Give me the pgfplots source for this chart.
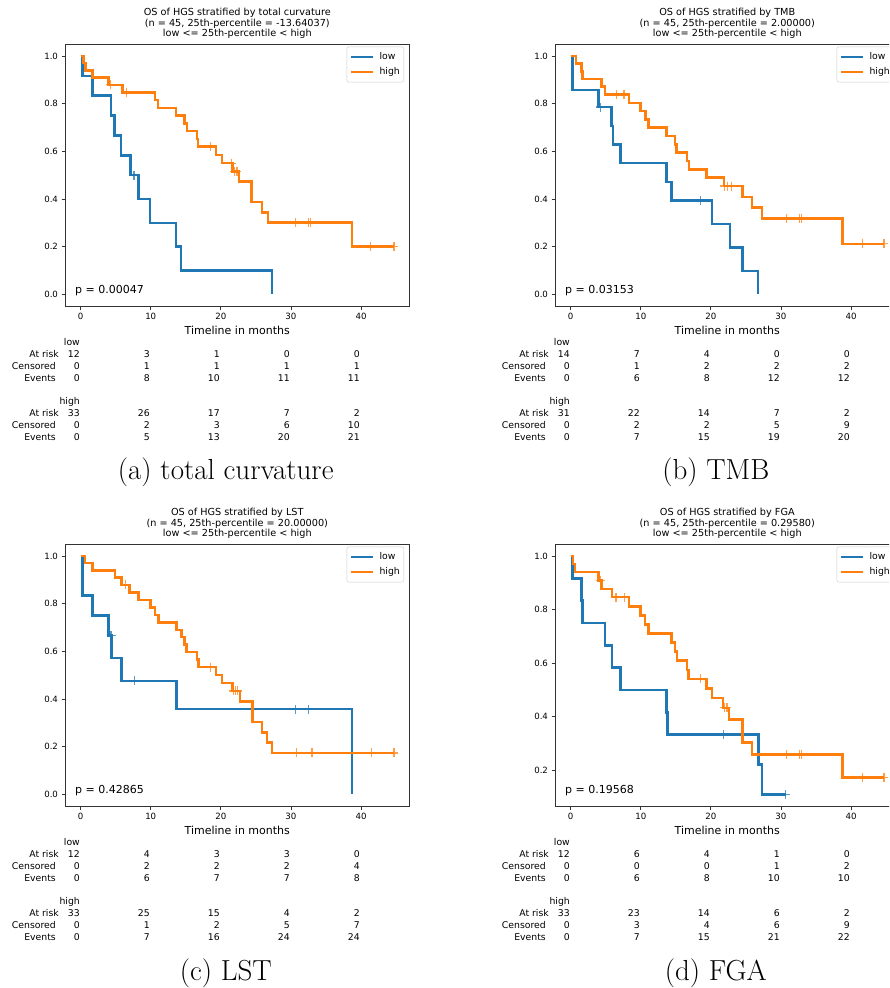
\documentclass[border=0pt]{standalone}
\usepackage{fontspec}
\usepackage{pgfplots}
\pgfplotsset{compat=1.18}
\newfontfamily\mpl{DejaVu Sans}
\definecolor{kmblue}{HTML}{1F77B4}
\definecolor{kmorange}{HTML}{FF7F0E}

\pgfplotsset{
  km/.style={
    scale only axis, width=344.6pt, height=262.1pt, anchor=south west,
    xmin=-2.235, xmax=46.935, xtick={0,10,20,30,40},
    tick align=outside, tick pos=left, major tick length=3.5pt,
    axis line style={black!80, line width=0.8pt},
    tick style={black!80, line width=0.8pt},
    ticklabel style={font=\mpl\fontsize{8.6}{10}\selectfont},
    /pgf/number format/assume math mode=true,
    yticklabel style={/pgf/number format/fixed, /pgf/number format/fixed zerofill, /pgf/number format/precision=1},
    legend style={at={(axis description cs:1,1)}, anchor=north east, xshift=-5.6pt, yshift=-2.6pt,
      draw=black!20, rounded corners=2pt, fill=white, inner xsep=3pt, inner ysep=4.6pt,
      row sep=4pt, column sep=4.5pt, font=\mpl\fontsize{9.3}{11}\selectfont,
      cells={anchor=west}, nodes={inner sep=1pt, text height=7pt, text depth=2pt}},
    legend cell align=left,
    legend image code/.code={\draw[#1, line width=2.2pt] (0pt,0pt) -- (22pt,0pt);},
  },
  surv/.style={const plot, line width=2.5pt},
  cens/.style={only marks, mark=+, mark size=4.5pt, mark options={line width=1.2pt, opacity=0.75}, forget plot},
}

\tikzset{
  tt/.style={anchor=base, inner sep=0pt, font=\mpl\fontsize{9.7}{11}\selectfont},
  xl/.style={anchor=base, inner sep=0pt, font=\mpl\fontsize{11}{13}\selectfont},
  rl/.style={anchor=base east, inner sep=0pt, font=\mpl\fontsize{9.3}{11}\selectfont},
  pv/.style={anchor=base west, inner sep=0pt, font=\mpl\fontsize{11}{13}\selectfont},
  subcap/.style={anchor=base, inner sep=0pt, font=\fontsize{29}{33}\selectfont},
}

% one row of the at-risk table: baseline, five counts
\newcommand{\riskrow}[6]{%
  \node[rl] at (15,#1) {#2};\node[rl] at (85,#1) {#3};\node[rl] at (155,#1) {#4};%
  \node[rl] at (225,#1) {#5};\node[rl] at (295,#1) {#6};}
% title, x label, row names
\newcommand{\panelframe}[2]{%
  \node[tt] at (172.3,290.3) {OS of HGS stratified by #1};
  \node[tt] at (172.3,279.9) {(n = 45, 25th-percentile = #2)};
  \node[tt] at (172.3,269.5) {low <= 25th-percentile < high};
  \node[xl] at (172.3,-28.1) {Timeline in months};
  \node[rl] at (15,-39.3) {low};
  \node[rl] at (-6,-51.1) {At risk};\node[rl] at (-9,-63.2) {Censored};\node[rl] at (-9,-75.3) {Events};
  \node[rl] at (15,-98.5) {high};
  \node[rl] at (-6,-110.6) {At risk};\node[rl] at (-9,-122.7) {Censored};\node[rl] at (-9,-134.8) {Events};}

\begin{document}
\begin{tikzpicture}
\useasboundingbox (0,0) rectangle (889pt,988pt);
\clip (0,0) rectangle (889pt,988pt);

% (a) total curvature
\begin{axis}[km, at={(65pt,681.8pt)}, ymin=-0.05, ymax=1.05, ytick={0,0.2,0.4,0.6,0.8,1.0}]
\addplot[surv, kmblue] coordinates {(0,1)(0.29,0.9167)(1.66,0.8333)(4.33,0.75)(4.8,0.6667)(5.75,0.5833)(7.08,0.5)(8.23,0.4)(9.9,0.3)(13.6,0.2)(14.3,0.1)(27.3,0)};
\addlegendentry{low}
\addplot[surv, kmorange] coordinates {(0,1)(0.38,0.9697)(0.71,0.9394)(1.66,0.9091)(3.95,0.8788)(5.94,0.8474)(10.6,0.8148)(11.0,0.7822)(13.6,0.7496)(14.8,0.7170)(15.2,0.6844)(16.6,0.6518)(16.75,0.6192)(19.3,0.5848)(20.2,0.5504)(21.7,0.5160)(22.6,0.4730)(24.4,0.3870)(25.9,0.3440)(26.7,0.3010)(38.7,0.2007)(44.7,0.2007)};
\addlegendentry{high}
\addplot[cens, kmblue] coordinates {(7.6,0.5)};
\addplot[cens, kmorange] coordinates {(4.3,0.8788)(6.5,0.8474)(18.5,0.6192)(21.5,0.5504)(22.0,0.5160)(22.3,0.5160)(30.7,0.3010)(32.5,0.3010)(32.8,0.3010)(41.4,0.2007)(44.7,0.2007)};
\end{axis}

% (b) TMB
\begin{axis}[km, at={(555pt,681.8pt)}, ymin=-0.05, ymax=1.05, ytick={0,0.2,0.4,0.6,0.8,1.0}]
\addplot[surv, kmblue] coordinates {(0,1)(0.29,0.8571)(3.95,0.7857)(5.85,0.7071)(6.04,0.6286)(7.08,0.55)(13.7,0.4714)(14.4,0.3929)(20.2,0.2946)(22.7,0.1964)(24.5,0.0982)(26.7,0)};
\addlegendentry{low}
\addplot[surv, kmorange] coordinates {(0,1)(0.76,0.9677)(1.55,0.9355)(1.7,0.9032)(4.42,0.8710)(4.9,0.8387)(8.32,0.8038)(9.94,0.7688)(10.65,0.7339)(11.1,0.6990)(13.7,0.6640)(14.9,0.6291)(15.1,0.5941)(16.6,0.5592)(16.9,0.5242)(19.4,0.4893)(21.9,0.4543)(24.5,0.4089)(25.9,0.3635)(27.3,0.3180)(38.8,0.2120)(44.7,0.2120)};
\addlegendentry{high}
\addplot[cens, kmblue] coordinates {(4.3,0.7857)(18.5,0.3929)};
\addplot[cens, kmorange] coordinates {(6.56,0.8387)(7.6,0.8387)(22.0,0.4543)(22.4,0.4543)(22.9,0.4543)(30.8,0.3180)(32.6,0.3180)(32.9,0.3180)(41.6,0.2120)(44.7,0.2120)};
\end{axis}

% (c) LST
\begin{axis}[km, at={(65pt,181.8pt)}, ymin=-0.05, ymax=1.05, ytick={0,0.2,0.4,0.6,0.8,1.0}]
\addplot[surv, kmblue] coordinates {(0,1)(0.29,0.8333)(1.66,0.75)(3.95,0.6667)(4.4,0.5714)(5.85,0.4762)(13.65,0.3571)(38.7,0)};
\addlegendentry{low}
\addplot[surv, kmorange] coordinates {(0,1)(0.62,0.9697)(1.66,0.9394)(4.9,0.9091)(5.85,0.8788)(6.94,0.8474)(8.27,0.8160)(9.99,0.7847)(10.6,0.7533)(11.1,0.7219)(13.7,0.6905)(14.4,0.6591)(14.8,0.6278)(15.1,0.5964)(16.6,0.5650)(16.8,0.5336)(19.3,0.5003)(20.2,0.4669)(21.7,0.4336)(22.7,0.3902)(24.5,0.3035)(25.9,0.2601)(26.6,0.2168)(27.3,0.1734)(44.7,0.1734)};
\addlegendentry{high}
\addplot[cens, kmblue] coordinates {(4.33,0.6667)(7.65,0.4762)(30.7,0.3571)(32.5,0.3571)};
\addplot[cens, kmorange] coordinates {(6.4,0.8788)(18.5,0.5336)(21.8,0.4336)(22.1,0.4336)(22.4,0.4336)(30.8,0.1734)(33.0,0.1734)(41.5,0.1734)(44.7,0.1734)};
\end{axis}

% (d) FGA
\begin{axis}[km, at={(555pt,181.8pt)}, ymin=0.0667, ymax=1.0444, ytick={0.2,0.4,0.6,0.8,1.0}]
\addplot[surv, kmblue] coordinates {(0,1)(0.29,0.9167)(1.55,0.8333)(1.7,0.75)(4.9,0.6667)(5.9,0.5833)(7.08,0.5)(13.7,0.4167)(13.8,0.3333)(26.8,0.2222)(27.3,0.1111)(30.7,0.1111)};
\addlegendentry{low}
\addplot[surv, kmorange] coordinates {(0,1)(0.3,0.9697)(0.62,0.9394)(3.95,0.9091)(4.4,0.8777)(5.9,0.8464)(8.32,0.8125)(9.94,0.7786)(10.6,0.7448)(11.1,0.7109)(14.4,0.6771)(14.9,0.6432)(15.2,0.6094)(16.6,0.5755)(16.8,0.5417)(19.4,0.5056)(20.2,0.4695)(21.7,0.4334)(22.6,0.3900)(24.5,0.3034)(25.9,0.2600)(38.8,0.1734)(44.7,0.1734)};
\addlegendentry{high}
\addplot[cens, kmblue] coordinates {(21.8,0.3333)(30.7,0.1111)};
\addplot[cens, kmorange] coordinates {(4.2,0.9091)(6.47,0.8464)(7.7,0.8464)(18.5,0.5417)(22.0,0.4334)(22.3,0.4334)(30.8,0.2600)(32.6,0.2600)(32.9,0.2600)(41.6,0.1734)(44.7,0.1734)};
\end{axis}

% texts around panel (a)
\begin{scope}[shift={(65pt,681.8pt)}, x=1pt, y=1pt]
\panelframe{total curvature}{-13.64037}
\node[pv] at (10,12.9) {p = 0.00047};
\riskrow{-51.1}{12}{3}{1}{0}{0}
\riskrow{-63.2}{0}{1}{1}{1}{1}
\riskrow{-75.3}{0}{8}{10}{11}{11}
\riskrow{-110.6}{33}{26}{17}{7}{2}
\riskrow{-122.7}{0}{2}{3}{6}{10}
\riskrow{-134.8}{0}{5}{13}{20}{21}
\node[subcap] at (160.7,-173.8) {(a) total curvature};
\end{scope}

% texts around panel (b)
\begin{scope}[shift={(555pt,681.8pt)}, x=1pt, y=1pt]
\panelframe{TMB}{2.00000}
\node[pv] at (10,12.9) {p = 0.03153};
\riskrow{-51.1}{14}{7}{4}{0}{0}
\riskrow{-63.2}{0}{1}{2}{2}{2}
\riskrow{-75.3}{0}{6}{8}{12}{12}
\riskrow{-110.6}{31}{22}{14}{7}{2}
\riskrow{-122.7}{0}{2}{2}{5}{9}
\riskrow{-134.8}{0}{7}{15}{19}{20}
\node[subcap] at (160.8,-173.8) {(b) TMB};
\end{scope}

% texts around panel (c)
\begin{scope}[shift={(65pt,181.8pt)}, x=1pt, y=1pt]
\panelframe{LST}{20.00000}
\node[pv] at (10,12.9) {p = 0.42865};
\riskrow{-51.1}{12}{4}{3}{3}{0}
\riskrow{-63.2}{0}{2}{2}{2}{4}
\riskrow{-75.3}{0}{6}{7}{7}{8}
\riskrow{-110.6}{33}{25}{15}{4}{2}
\riskrow{-122.7}{0}{1}{2}{5}{7}
\riskrow{-134.8}{0}{7}{16}{24}{24}
\node[subcap] at (160.8,-173.8) {(c) LST};
\end{scope}

% texts around panel (d)
\begin{scope}[shift={(555pt,181.8pt)}, x=1pt, y=1pt]
\panelframe{FGA}{0.29580}
\node[pv] at (10,12.9) {p = 0.19568};
\riskrow{-51.1}{12}{6}{4}{1}{0}
\riskrow{-63.2}{0}{0}{0}{1}{2}
\riskrow{-75.3}{0}{6}{8}{10}{10}
\riskrow{-110.6}{33}{23}{14}{6}{2}
\riskrow{-122.7}{0}{3}{4}{6}{9}
\riskrow{-134.8}{0}{7}{15}{21}{22}
\node[subcap] at (160.8,-173.8) {(d) FGA};
\end{scope}
\end{tikzpicture}
\end{document}
